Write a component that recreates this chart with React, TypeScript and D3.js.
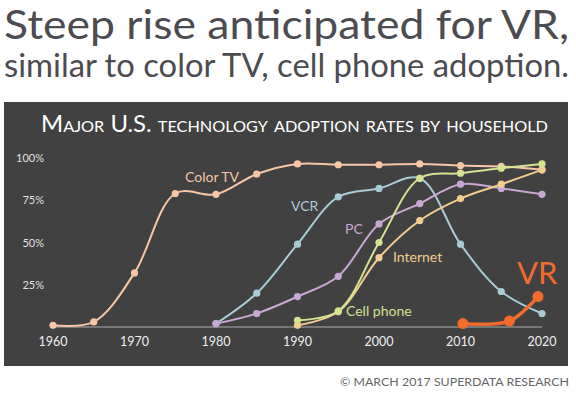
import * as d3 from 'd3';

// years sampled for each technology
const years = [1960, 1965, 1970, 1975, 1980, 1985, 1990, 1995, 2000, 2005, 2010, 2015, 2020];
const colorTV = [1, 3, 32, 79, 78.5, 90.5, 96.5, 96, 96, 96.5, 95.5, 95, 93];
const vcrYears = [1980, 1985, 1990, 1995, 2000, 2005, 2010, 2015, 2020];
const vcr = [2, 20, 49, 77, 82, 88, 49, 21, 8];
const pcYears = [1980, 1985, 1990, 1995, 2000, 2005, 2010, 2015, 2020];
const pc = [2, 8, 18, 30, 61, 73, 84.5, 82, 78.5];
const cellYears = [1990, 1995, 2000, 2005, 2010, 2015, 2020];
const cellPhone = [4, 9.5, 50, 88, 91, 94, 96.5];
const netYears = [1990, 1995, 2000, 2005, 2010, 2015, 2020];
const internet = [1, 9, 41, 63, 76, 84.5, 93];
const vrYears = [2010.3, 2016, 2019.5];
const vr = [2, 3.5, 18];

const xTicks = [1960, 1970, 1980, 1990, 2000, 2010, 2020];
const yTicks = [25, 50, 75, 100];

const series = [
  { name: 'Color TV', years: years, values: colorTV, color: '#f7c6a6' },
  { name: 'VCR', years: vcrYears, values: vcr, color: '#a9cbd6' },
  { name: 'PC', years: pcYears, values: pc, color: '#c8a8d2' },
  { name: 'Internet', years: netYears, values: internet, color: '#f3cc90' },
  { name: 'Cell phone', years: cellYears, values: cellPhone, color: '#d5e28f' },
];

export default function App() {
  const x = d3.scaleLinear().domain([1960, 2020]).range([53, 542]);
  const y = d3.scaleLinear().domain([0, 100]).range([327, 158]);
  const line = d3
    .line<[number, number]>()
    .x((d) => x(d[0]))
    .y((d) => y(d[1]))
    .curve(d3.curveCatmullRom.alpha(0.5));

  const font = 'Lato, "Open Sans", sans-serif';

  return (
    <svg width={576} height={395} style={{ position: 'absolute', left: 0, top: 0, fontFamily: font }}>
      <rect width={576} height={395} fill="#fff" />
      <text x={4} y={39} fontSize={41} fill="#4b4b50" textLength={565} lengthAdjust="spacingAndGlyphs">
        Steep rise anticipated for VR,
      </text>
      <text x={4} y={77} fontSize={32} fill="#4b4b50" textLength={565} lengthAdjust="spacingAndGlyphs">
        similar to color TV, cell phone adoption.
      </text>

      <rect x={4} y={102} width={564} height={264} fill="#414141" />
      <text
        x={41}
        y={132}
        fontSize={23.5}
        fill="#fff"
        style={{ fontVariant: 'small-caps' }}
        textLength={507}
        lengthAdjust="spacingAndGlyphs"
      >
        Major U.S. technology adoption rates by household
      </text>

      <line x1={x(1960)} x2={x(2020)} y1={y(0)} y2={y(0)} stroke="#8a8a8a" strokeWidth={1.5} />

      {yTicks.map((t) => (
        <text key={t} x={44} y={y(t) + 4} fontSize={11} fill="#e0e0e0" textAnchor="end">
          {t}%
        </text>
      ))}
      {xTicks.map((t) => (
        <text key={t} x={x(t)} y={346} fontSize={12.5} fill="#eeeeee" textAnchor="middle">
          {t}
        </text>
      ))}

      {series.map((s) => {
        const pts = s.years.map((yr, i) => [yr, s.values[i]] as [number, number]);
        return (
          <g key={s.name}>
            <path d={line(pts) || ''} fill="none" stroke={s.color} strokeWidth={2} />
            {pts.map((p, i) => (
              <circle key={i} cx={x(p[0])} cy={y(p[1])} r={3.6} fill={s.color} />
            ))}
          </g>
        );
      })}

      {(() => {
        const pts = vrYears.map((yr, i) => [yr, vr[i]] as [number, number]);
        return (
          <g>
            <path d={line(pts) || ''} fill="none" stroke="#f26c2b" strokeWidth={3.5} />
            {pts.map((p, i) => (
              <circle key={i} cx={x(p[0])} cy={y(p[1])} r={5.5} fill="#f26c2b" />
            ))}
          </g>
        );
      })()}

      <text x={185} y={182} fontSize={14} fill="#f7c6a6">Color TV</text>
      <text x={291} y={211} fontSize={14} fill="#a9cbd6">VCR</text>
      <text x={345} y={234} fontSize={14} fill="#c8a8d2">PC</text>
      <text x={393} y={262} fontSize={14} fill="#f3cc90">Internet</text>
      <text x={346} y={316} fontSize={14} fill="#d5e28f">Cell phone</text>
      <text x={517} y={284} fontSize={31} fill="#f26c2b">VR</text>

      <text x={569} y={386} fontSize={11.5} fill="#666" textAnchor="end" textLength={229} lengthAdjust="spacingAndGlyphs">
        © MARCH 2017 SUPERDATA RESEARCH
      </text>
    </svg>
  );
}
